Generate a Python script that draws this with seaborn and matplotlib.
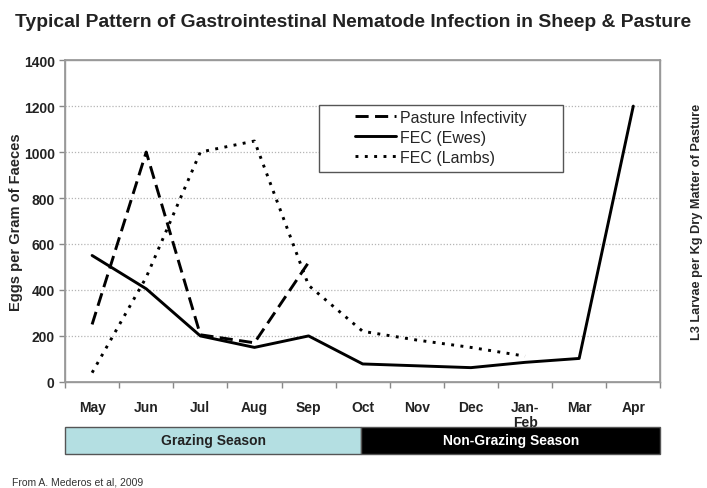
import pandas as pd
import matplotlib.pyplot as plt
import seaborn as sns
from matplotlib.patches import Rectangle
from matplotlib.ticker import FixedLocator

# Daten
months = ["May", "Jun", "Jul", "Aug", "Sep", "Oct", "Nov", "Dec", "Jan-\nFeb", "Mar", "Apr"]
pasture = [250, 1000, 205, 170, 520]
fec_ewes = [550, 405, 200, 150, 200, 78, 70, 62, 85, 102, 1200]
fec_lambs = [40, 455, 1000, 1048, 420, 220, 182, 150, 112]
series_names = ["Pasture Infectivity", "FEC (Ewes)", "FEC (Lambs)"]
seasons = ["Grazing Season", "Non-Grazing Season"]

rows = []
for name, vals in zip(series_names, [pasture, fec_ewes, fec_lambs]):
    for i, v in enumerate(vals):
        rows.append({"idx": i, "month": months[i], "value": v, "series": name})
df = pd.DataFrame(rows)

sns.set_theme(style="white")
plt.rcParams["font.family"] = ["Liberation Sans", "DejaVu Sans"]

fig = plt.figure(figsize=(7.07, 4.89), dpi=100)
ax = fig.add_axes([0.092, 0.217, 0.842, 0.658])

sns.lineplot(
    data=df, x="idx", y="value", hue="series", style="series",
    hue_order=series_names, style_order=series_names,
    palette=["black", "black", "black"],
    dashes={"Pasture Infectivity": (4.5, 2.2), "FEC (Ewes)": "", "FEC (Lambs)": (1.0, 2.2)},
    linewidth=2.1, ax=ax, sort=False,
)

ax.set_xlim(-0.5, len(months) - 0.5)
ax.set_ylim(0, 1400)
ax.set_yticks(range(0, 1401, 200))
ax.set_xticks(range(len(months)))
ax.set_xticklabels(months, fontweight="bold", fontsize=10, linespacing=1.1)
ax.xaxis.set_minor_locator(FixedLocator([i - 0.5 for i in range(len(months) + 1)]))
ax.tick_params(axis="x", which="major", length=0, pad=13, colors="#222222")
ax.tick_params(axis="x", which="minor", length=4, width=1, color="#888888", direction="out", bottom=True)
ax.tick_params(axis="y", length=4, width=1, color="#888888", direction="out", left=True, labelsize=10, colors="#222222")
for lbl in ax.get_yticklabels():
    lbl.set_fontweight("bold")
for y in range(200, 1400, 200):
    ax.axhline(y, color="#b5b5b5", lw=0.9, ls=(0, (1, 1.5)), zorder=0)
for s in ax.spines.values():
    s.set_color("#999999")
    s.set_linewidth(1)
ax.set_xlabel("")
ax.set_ylabel("Eggs per Gram of Faeces", fontweight="bold", fontsize=10.5)
ax.yaxis.set_label_coords(-0.071, 0.5)

ax2 = ax.twinx()
ax2.set_yticks([])
for s in ax2.spines.values():
    s.set_color("#999999")
ax2.set_ylabel("L3 Larvae per Kg Dry Matter of Pasture", fontweight="bold", fontsize=9.2, labelpad=22)

# Legende ohne eigenen Rahmen, Rahmen separat (Handles sitzen weiter rechts)
leg = ax.legend(loc="upper left", bbox_to_anchor=(0.487, 0.845), frameon=False,
                fontsize=11.5, handlelength=2.6, handletextpad=0.2, borderpad=0,
                labelspacing=0.3, borderaxespad=0)
ax.add_patch(Rectangle((0.427, 0.652), 0.41, 0.208, transform=ax.transAxes,
                       facecolor="white", edgecolor="#555555", lw=1, zorder=4))
leg.set_zorder(5)

fig.text(0.5, 0.953, "Typical Pattern of Gastrointestinal Nematode Infection in Sheep & Pasture",
         ha="center", va="center", fontsize=13.9, fontweight="bold", color="#222222")

# Saison-Balken unter der Achse
x0, x_mid, x1 = 0.092, 361 / 707, 0.934
bar_y, bar_h = 0.07, 0.055
fig.patches.append(Rectangle((x0, bar_y), x_mid - x0, bar_h, transform=fig.transFigure,
                             facecolor="#b4dfe2", edgecolor="#555555", lw=1))
fig.patches.append(Rectangle((x_mid, bar_y), x1 - x_mid, bar_h, transform=fig.transFigure,
                             facecolor="black", edgecolor="#555555", lw=1))
fig.text((x0 + x_mid) / 2, bar_y + bar_h / 2, seasons[0], ha="center", va="center",
         fontsize=10, fontweight="bold", color="#222222")
fig.text((x_mid + x1) / 2, bar_y + bar_h / 2, seasons[1], ha="center", va="center",
         fontsize=10, fontweight="bold", color="white")

fig.text(0.017, 0.014, "From A. Mederos et al, 2009", ha="left", va="center", fontsize=7.5, color="#333333")

fig.savefig("out.png", dpi=100)
